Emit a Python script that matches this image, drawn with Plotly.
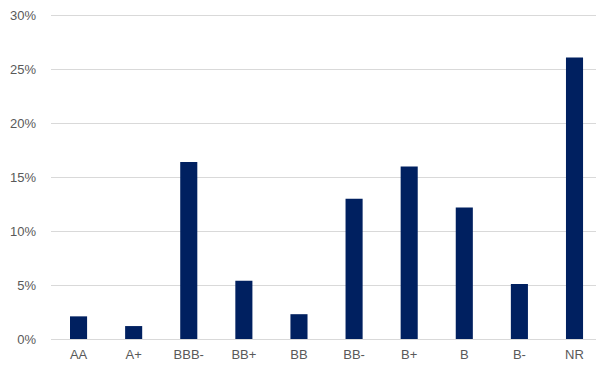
import plotly.graph_objects as go

categories = ["AA", "A+", "BBB-", "BB+", "BB", "BB-", "B+", "B", "B-", "NR"]
values = [2.1, 1.2, 16.4, 5.4, 2.3, 13.0, 16.0, 12.2, 5.1, 26.1]
y_ticks = [0, 5, 10, 15, 20, 25, 30]
y_tick_labels = [f"{v}%" for v in y_ticks]

fig = go.Figure(go.Bar(
    x=list(range(len(categories))), y=values,
    marker=dict(color="#002060", line=dict(width=0)),
    width=0.31,
))
font = dict(family="Liberation Sans, Arial", size=13, color="#595959")
fig.update_layout(
    width=596, height=370,
    margin=dict(l=51, r=0, t=10, b=31),
    paper_bgcolor="white", plot_bgcolor="white",
    showlegend=False,
    font=font,
    xaxis=dict(
        tickmode="array", tickvals=list(range(len(categories))), ticktext=categories,
        range=[-0.5, 9.39], showgrid=False, zeroline=False,
        showline=False, ticks="", ticklabelstandoff=6, tickfont=font,
    ),
    yaxis=dict(
        range=[0, 30.5], tickmode="array", tickvals=y_ticks, ticktext=y_tick_labels,
        showgrid=True, gridcolor="#d9d9d9", gridwidth=1,
        zeroline=True, zerolinecolor="#d9d9d9", zerolinewidth=1,
        showline=False, ticks="", ticklabelstandoff=14, tickfont=font,
    ),
)
fig.write_html("out.html")
